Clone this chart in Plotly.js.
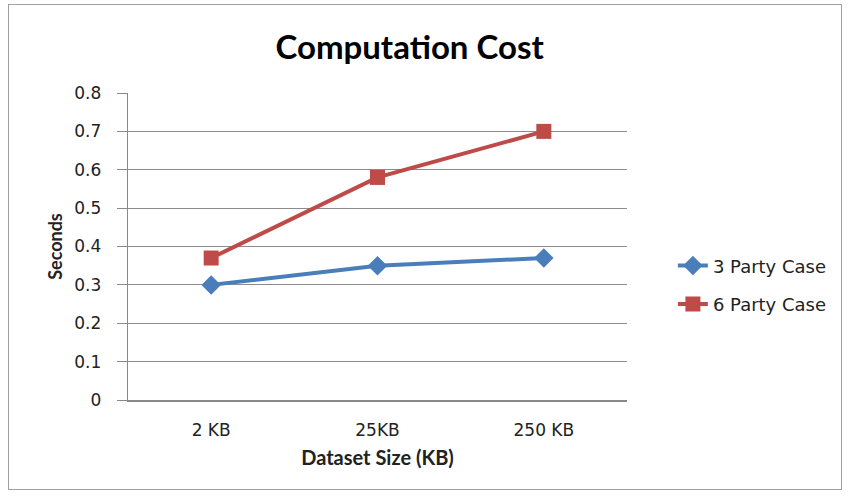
<!DOCTYPE html>
<html><head><meta charset="utf-8">
<script src="https://cdn.plot.ly/plotly-3.0.1.min.js"></script>
<style>
html,body{margin:0;padding:0;background:#fff;}
#chart{width:848px;height:497px;position:relative;}
#frame{position:absolute;left:8px;top:4px;width:834px;height:486px;border:1.5px solid #a0a0a0;pointer-events:none;box-sizing:border-box;}
</style></head>
<body>
<div id="chart"></div>
<div id="frame"></div>
<script>
const categories = ["2 KB", "25KB", "250 KB"];
const party3 = [0.30, 0.35, 0.37];
const party6 = [0.37, 0.58, 0.70];
const yTicks = [0, 0.1, 0.2, 0.3, 0.4, 0.5, 0.6, 0.7, 0.8];
const yTickText = ["0", "0.1", "0.2", "0.3", "0.4", "0.5", "0.6", "0.7", "0.8"];

const tickFont = {family: "DejaVu Sans, Verdana, sans-serif", size: 17, color: "#222"};
const traces = [
  {x: categories, y: party3, name: "3 Party Case", type: "scatter", mode: "lines+markers", legendgroup: "a",
   line: {color: "#4a7ebb", width: 4}, marker: {symbol: "diamond", size: 15, color: "#4a7ebb"}},
  {x: categories, y: party6, name: "6 Party Case", type: "scatter", mode: "lines+markers", legendgroup: "b",
   line: {color: "#be4b48", width: 4}, marker: {symbol: "square", size: 15, color: "#be4b48"}}
];
const layout = {
  width: 848, height: 497,
  margin: {l: 128, r: 221, t: 93, b: 97},
  paper_bgcolor: "#fff", plot_bgcolor: "#fff",
  title: {text: "<b>Computation Cost</b>", x: 0.483, xref: "container", xanchor: "center", y: 0.905, yanchor: "middle",
          font: {family: "Lato, sans-serif", size: 33, color: "#000"}},
  xaxis: {type: "category", range: [-0.5, 2.5], showgrid: false, zeroline: false,
          showline: true, linecolor: "#888", linewidth: 1.5, ticks: "", ticklabelstandoff: 14,
          tickfont: tickFont,
          title: {text: "<b>Dataset Size (KB)</b>", standoff: 12,
                  font: {family: "Lato, sans-serif", size: 20, color: "#222"}}},
  yaxis: {range: [0, 0.8], tickvals: yTicks, ticktext: yTickText, showgrid: true,
          gridcolor: "#8c8c8c", gridwidth: 1.2, zeroline: false, showline: true,
          linecolor: "#888", linewidth: 1.3, ticks: "outside", ticklen: 10, tickcolor: "#888",
          ticklabelstandoff: 12, tickfont: tickFont,
          title: {text: "<b>Seconds</b>", standoff: 7,
                  font: {family: "Lato, sans-serif", size: 18, color: "#222"}}},
  legend: {x: 1.092, xanchor: "left", y: 0.375, yanchor: "middle", bgcolor: "rgba(0,0,0,0)",
           font: {family: "DejaVu Sans, Verdana, sans-serif", size: 18, color: "#222"},
           tracegroupgap: 12, traceorder: "grouped"},
  showlegend: true
};
Plotly.newPlot("chart", traces, layout, {displayModeBar: false, staticPlot: true});
</script>
</body></html>
